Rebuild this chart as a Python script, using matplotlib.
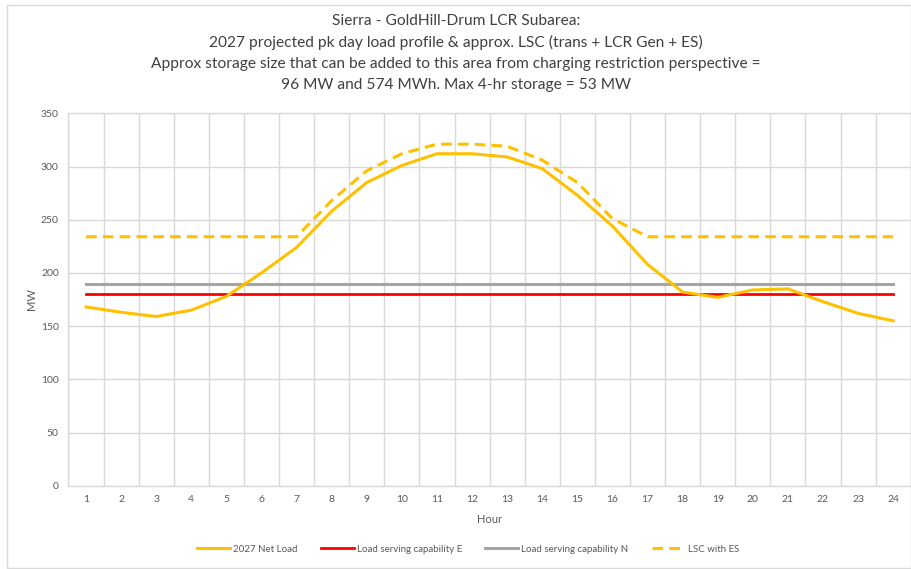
import numpy as np
import matplotlib.pyplot as plt
from matplotlib.patches import Rectangle

plt.rcParams['font.family'] = ['Lato', 'DejaVu Sans']

hours = list(range(1, 25))
net_load = [168, 163, 159, 165, 178, 200, 224, 258, 285, 301, 312, 312,
            309, 298, 273, 244, 208, 182, 177, 184, 185, 173, 162, 155]
lsc_e = [180] * 24
lsc_n = [190] * 24
lsc_es = [234, 234, 234, 234, 234, 234, 234, 268, 296, 312, 321, 321,
          319, 306, 285, 251, 234, 234, 234, 234, 234, 234, 234, 234]

title = ("Sierra - GoldHill-Drum LCR Subarea:\n"
         "2027 projected pk day load profile & approx. LSC (trans + LCR Gen + ES)\n"
         "Approx storage size that can be added to this area from charging restriction perspective =\n"
         "96 MW and 574 MWh. Max 4-hr storage = 53 MW")

W, H = 912, 569
fig = plt.figure(figsize=(W/100, H/100), dpi=100)
ax = fig.add_axes([68.5/W, (H-485.7)/H, (910.7-68.5)/W, (485.7-113.3)/H])

# chart area border
fig.patches.append(Rectangle((7/W, 1/H), (W-8)/W, (H-6)/H, transform=fig.transFigure,
                             fill=False, edgecolor='#d9d9d9', linewidth=1))

x = np.arange(len(hours))
ax.plot(x, net_load, color='#FFC000', lw=2.2, label='2027 Net Load', zorder=4)
ax.plot(x, lsc_e, color='#FF0000', lw=2.0, label='Load serving capability E', zorder=3)
ax.plot(x, lsc_n, color='#A5A5A5', lw=2.2, label='Load serving capability N', zorder=2)
ax.plot(x, lsc_es, color='#FFC000', lw=2.2, ls=(0, (3.5, 2)), label='LSC with ES', zorder=4)

ax.set_xlim(-0.5, len(hours) - 0.5)
ax.set_ylim(0, 350)
ax.set_yticks(range(0, 351, 50))
ax.set_xticks(x)
ax.set_xticklabels([str(h) for h in hours])
ax.set_xticks(np.arange(-0.5, len(hours), 1), minor=True)
ax.grid(True, which='minor', axis='x', color='#d9d9d9', lw=1)
ax.grid(True, which='major', axis='y', color='#d9d9d9', lw=1)
ax.set_axisbelow(True)
ax.tick_params(which='both', length=0, labelsize=7.5, colors='#595959', pad=7)
for s in ax.spines.values():
    s.set_color('#d9d9d9')
    s.set_linewidth(1)

ax.set_xlabel('Hour', fontsize=8, color='#595959', labelpad=7)
ax.set_ylabel('MW', fontsize=8, color='#595959', labelpad=3)

fig.text(0.5, 1 - 14/H, title, ha='center', va='top', fontsize=11.2, color='#404040',
         linespacing=1.6)

fig.legend(loc='center', bbox_to_anchor=(468/W, 1 - 549/H), ncol=4, frameon=False,
           fontsize=7, labelcolor='#595959', handlelength=3.4, columnspacing=2.4,
           handletextpad=0.3)

fig.savefig('out.png', dpi=100)
